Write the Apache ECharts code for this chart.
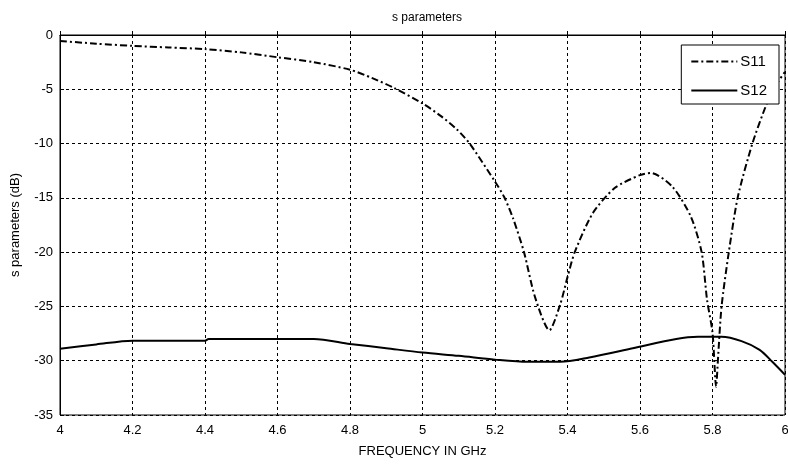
<!DOCTYPE html>
<html>
<head>
<meta charset="utf-8">
<script src="https://cdn.jsdelivr.net/npm/echarts@6/dist/echarts.min.js"></script>
<style>html,body{margin:0;padding:0;background:#fff;}#c{width:788px;height:466px;}</style>
</head>
<body>
<div id="c"></div>
<script>
const s11Freq = [4.0,4.1,4.2,4.3,4.4,4.5,4.6,4.7,4.8,4.86,4.92,5.0,5.05,5.095,5.13,5.2,5.225,5.25,5.28,5.31,5.35,5.38,5.40,5.42,5.47,5.53,5.6,5.63,5.69,5.74,5.77,5.785,5.80,5.81,5.815,5.825,5.845,5.87,5.91,5.95,5.975,6.0];
const s11Vals = [-0.55,-0.8,-1.0,-1.15,-1.3,-1.6,-2.05,-2.5,-3.2,-3.95,-4.85,-6.3,-7.45,-8.7,-10.0,-13.5,-14.9,-16.9,-20.0,-24.1,-27.2,-24.8,-22.3,-20.0,-16.4,-14.1,-12.9,-12.7,-14.0,-16.7,-20.0,-24.4,-27.4,-32.4,-29.9,-25.0,-20.0,-14.9,-10.0,-6.3,-4.6,-3.4];
const s12Freq = [4.0,4.1,4.2,4.4,4.41,4.5,4.6,4.7,4.8,4.9,5.0,5.1,5.2,5.29,5.38,5.46,5.58,5.7,5.76,5.825,5.88,5.93,5.965,6.0];
const s12Vals = [-28.9,-28.5,-28.15,-28.15,-28.0,-28.0,-28.0,-28.0,-28.45,-28.85,-29.25,-29.55,-29.9,-30.1,-30.1,-29.7,-28.85,-28.0,-27.8,-27.8,-28.2,-29.0,-30.1,-31.3];
const xTicks = [4,4.2,4.4,4.6,4.8,5,5.2,5.4,5.6,5.8,6];
const yTicks = [0,-5,-10,-15,-20,-25,-30,-35];

const pairs = (xs, ys) => xs.map((x, i) => [x, ys[i]]);
const font = 'Liberation Sans, Arial, sans-serif';
const chart = echarts.init(document.getElementById('c'));
chart.setOption({
  backgroundColor: '#fff',
  animation: false,
  title: {
    text: 's parameters', left: 422, top: 7, textAlign: 'center',
    textStyle: {fontFamily: font, fontSize: 12, fontWeight: 'normal', color: '#000'}
  },
  legend: {
    right: 9, top: 45, orient: 'vertical', align: 'left',
    itemWidth: 46, itemHeight: 14, itemGap: 14,
    padding: [9, 12, 6, 9],
    borderColor: '#000', borderWidth: 1, backgroundColor: '#fff',
    itemStyle: {opacity: 0},
    textStyle: {fontFamily: font, fontSize: 15, color: '#000', padding: [0, 0, 0, -2]},
    data: ['S11', 'S12']
  },
  grid: {left: 60, right: 3, top: 35, bottom: 51, outerBoundsMode: 'none', containLabel: false,
    show: true, borderColor: '#000', borderWidth: 1, backgroundColor: '#fff'},
  xAxis: {
    type: 'value', min: 4, max: 6, interval: 0.2,
    name: 'FREQUENCY IN GHz', nameLocation: 'middle', nameGap: 30,
    nameTextStyle: {fontFamily: font, fontSize: 13, color: '#000'},
    axisLine: {lineStyle: {color: '#000'}},
    axisTick: {inside: true, length: 4, lineStyle: {color: '#000'}},
    axisLabel: {fontFamily: font, fontSize: 13, color: '#000', margin: 9,
      formatter: v => { const t = xTicks.find(t => Math.abs(t - v) < 1e-6); return t === undefined ? '' : String(t); }},
    splitLine: {show: true, lineStyle: {color: '#000', type: [3, 3], width: 1}}
  },
  yAxis: {
    type: 'value', min: -35, max: 0, interval: 5,
    name: 's parameters (dB)', nameLocation: 'middle', nameGap: 38,
    nameTextStyle: {fontFamily: font, fontSize: 13, color: '#000'},
    axisLine: {show: true, lineStyle: {color: '#000'}},
    axisTick: {show: true, inside: true, length: 4, lineStyle: {color: '#000'}},
    axisLabel: {fontFamily: font, fontSize: 13, color: '#000', margin: 7,
      formatter: v => { const t = yTicks.find(t => Math.abs(t - v) < 1e-6); return t === undefined ? '' : String(t); }},
    splitLine: {show: true, lineStyle: {color: '#000', type: [3, 3], width: 1}}
  },
  series: [
    {name: 'S11', type: 'line', data: pairs(s11Freq, s11Vals), symbol: 'none', smooth: 0.25,
      color: '#000', lineStyle: {color: '#000', width: 2, type: [7, 3, 2, 3]}},
    {name: 'S12', type: 'line', data: pairs(s12Freq, s12Vals), symbol: 'none', smooth: 0.3,
      color: '#000', lineStyle: {color: '#000', width: 2, type: 'solid'}}
  ]
});
</script>
</body>
</html>
